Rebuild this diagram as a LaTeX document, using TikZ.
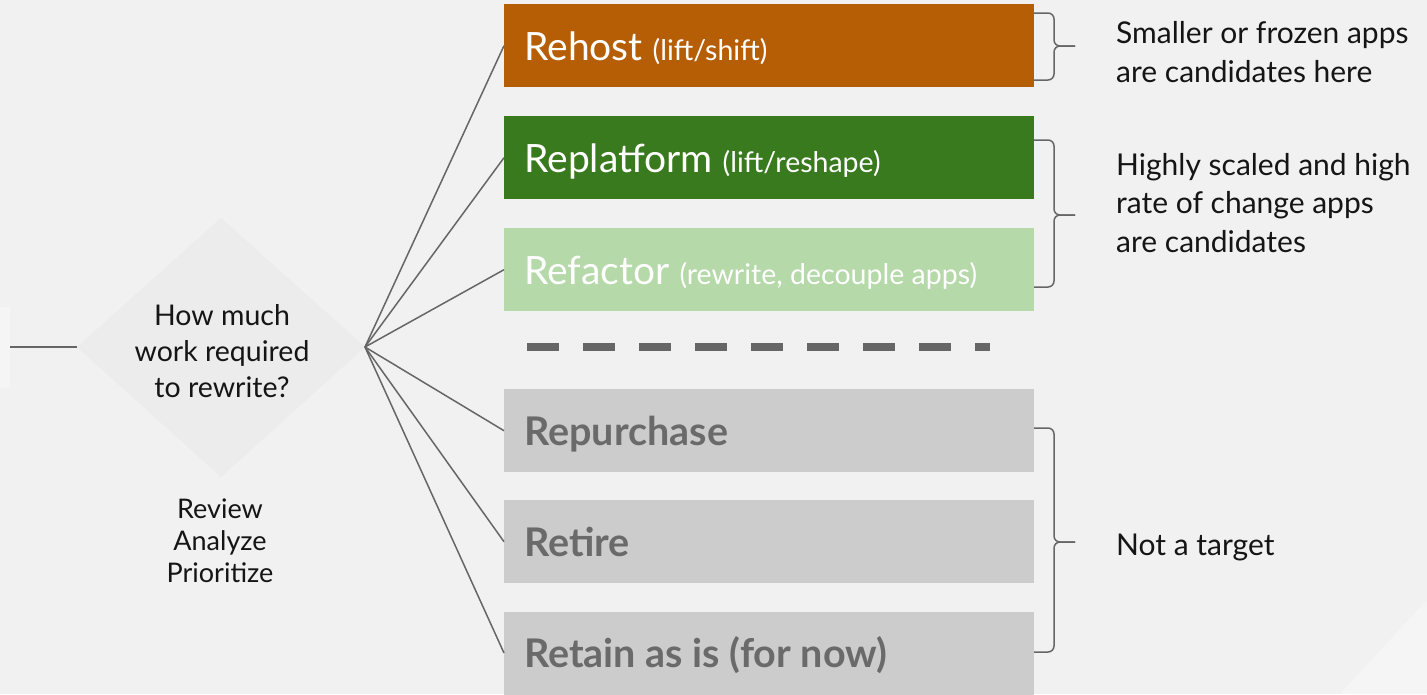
\documentclass[tikz,border=0pt]{standalone}
\usepackage{fontspec}
\setmainfont{Lato}
\usetikzlibrary{calc}
\definecolor{bg}{HTML}{F1F1F1}
\definecolor{diam}{HTML}{ECECEC}
\definecolor{rehostc}{HTML}{B55E06}
\definecolor{replatc}{HTML}{3A7A1F}
\definecolor{refactc}{HTML}{B5D9A8}
\definecolor{grayc}{HTML}{CCCCCC}
\definecolor{graytext}{HTML}{6A6A6A}
\definecolor{linec}{HTML}{666666}
\definecolor{ink}{HTML}{151515}
\tikzset{
  optbox/.style={rectangle, anchor=north west, minimum width=530, minimum height=83, inner sep=0, draw=none},
  titletext/.style={anchor=base west, inner sep=0, text=white, font=\fontsize{39}{44}\selectfont},
  graytitle/.style={anchor=base west, inner sep=0, text=graytext, font=\fontsize{39.5}{44}\selectfont\bfseries},
  note/.style={anchor=base west, inner sep=0, text=ink, align=left, font=\fontsize{30}{38.5}\selectfont},
  fan/.style={draw=linec, line width=1.5},
  brace/.style={draw=linec, line width=1.5, rounded corners=6},
}
\newcommand{\subt}[1]{{\fontsize{28.5}{30}\selectfont #1}}
\begin{document}
\begin{tikzpicture}[x=1pt,y=-1pt]
\useasboundingbox (0,0) rectangle (1427,694);
\fill[bg] (0,0) rectangle (1427,694);
\fill[white, opacity=0.35] (1340,694) -- (1427,600) -- (1427,694) -- cycle;
\fill[white, opacity=0.3] (0,307) rectangle (10,388);

% diamond
\fill[diam] (77,347) -- (221,218) -- (365,347) -- (221,477) -- cycle;
\coordinate (qw) at (77,347);
\coordinate (qe) at (365,347);
\coordinate (lin) at (10,347);
\node[anchor=base, align=center, inner sep=0, text=ink, font=\fontsize{28.5}{36}\selectfont] (q) at (222,397) {How much\\work required\\to rewrite?};
\draw[fan] (lin) -- (qw);
\node[anchor=base, align=center, inner sep=0, text=ink, font=\fontsize{27}{32}\selectfont] (rap) at (220,582) {Review\\Analyze\\Prioritize};

% boxes
\node[optbox, fill=rehostc] (rehost) at (504,4) {};
\node[optbox, fill=replatc] (replat) at (504,116) {};
\node[optbox, fill=refactc] (refact) at (504,228) {};
\node[optbox, fill=grayc] (repur) at (504,389) {};
\node[optbox, fill=grayc] (retire) at (504,500) {};
\node[optbox, fill=grayc, minimum height=90] (retain) at (504,612) {};

\node[titletext] (rehostT) at ($(rehost.west)+(20,15)$) {Rehost \subt{(lift/shift)}};
\node[titletext] (replatT) at ($(replat.west)+(20,15)$) {Replatform \subt{(lift/reshape)}};
\node[titletext] (refactT) at ($(refact.west)+(20,15)$) {Refactor \subt{(rewrite, decouple apps)}};
\node[graytitle] (repurT) at ($(repur.west)+(20,15)$) {Repurchase};
\node[graytitle] (retireT) at ($(retire.west)+(20,15)$) {Retire};
\node[graytitle] (retainT) at (524,667) {Retain as is (for now)};

% fan connectors
\coordinate (retainW) at (504,653);
\foreach \t in {rehost,replat,refact,repur,retire}{
  \draw[fan] (qe) -- (\t.west);
}
\draw[fan] (qe) -- (retainW);

% dashed separator
\coordinate (dashA) at (527,347);
\coordinate (dashB) at (990,347);
\draw[draw=linec, line width=8, dash pattern=on 32 off 24] (dashA) -- (dashB);

% braces
\coordinate (b1t) at (1034,13); \coordinate (b1b) at (1034,80); \coordinate (b1p) at (1075,46);
\draw[brace] (b1t) -- (1054,13) -- (1054,46) -- (b1p);
\draw[brace] (b1b) -- (1054,80) -- (1054,46) -- (b1p);
\coordinate (b2t) at (1034,140); \coordinate (b2b) at (1034,287); \coordinate (b2p) at (1075,215);
\draw[brace] (b2t) -- (1054,140) -- (1054,215) -- (b2p);
\draw[brace] (b2b) -- (1054,287) -- (1054,215) -- (b2p);
\coordinate (b3t) at (1034,428); \coordinate (b3b) at (1034,652); \coordinate (b3p) at (1075,542);
\draw[brace] (b3t) -- (1054,428) -- (1054,542) -- (b3p);
\draw[brace] (b3b) -- (1054,652) -- (1054,542) -- (b3p);

% notes (anchor = baseline of last line)
\node[note] (n1) at (1116,82) {Smaller or frozen apps\\are candidates here};
\node[note] (n2) at (1116,252) {Highly scaled and high\\rate of change apps\\are candidates};
\node[note] (n3) at (1116,555) {Not a target};
\end{tikzpicture}
\end{document}
